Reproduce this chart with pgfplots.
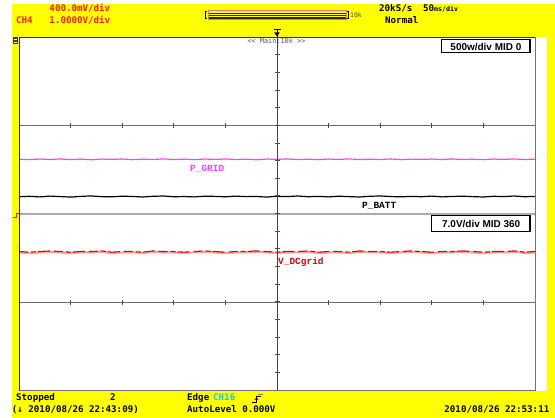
\documentclass[border=0pt]{standalone}
\usepackage{pgfplots}
\pgfplotsset{compat=1.18}
\usepackage{pgfplotstable}
\usepackage{fontspec}
\newfontfamily\scopefont{DejaVu Sans Mono}
\newfontfamily\labfont{Liberation Mono}
\newfontfamily\boxfont{Liberation Sans}
\definecolor{scy}{HTML}{FFFF00}
\definecolor{scred}{HTML}{FF1A1A}
\definecolor{pgrid}{HTML}{FF40FF}
\definecolor{vred}{HTML}{E00000}
\definecolor{vpink}{HTML}{FF9E9E}
\definecolor{cyan16}{HTML}{00D4F0}
\definecolor{barpink}{HTML}{E87878}
\newcommand{\hdr}{\scopefont\bfseries\fontsize{9.2}{11}\selectfont}
\newcommand{\lab}{\labfont\bfseries\fontsize{9.5}{11}\selectfont}
\newcommand{\bx}{\boxfont\bfseries\fontsize{10}{12}\selectfont}

% t [ms], P_GRID [W], P_BATT [W], V_DCgrid [V]
\pgfplotstableread{
t pgrid pbatt vdc
-250 615 190 353.9
-240 610 195 353.8
-230 617 188 353.9
-220 612 197 354.0
-210 618 192 353.9
-200 611 186 353.8
-190 616 194 353.9
-180 609 199 353.9
-170 617 191 354.0
-160 613 189 353.8
-150 618 196 353.9
-140 610 193 353.9
-130 615 187 353.8
-120 612 195 354.0
-110 619 198 353.9
-100 611 190 353.9
-90 616 192 353.8
-80 610 188 353.9
-70 617 196 354.0
-60 613 194 353.9
-50 618 189 353.8
-40 612 197 353.9
-30 615 191 353.9
-20 609 193 354.0
-10 617 186 353.9
0 614 195 353.8
10 618 192 353.9
20 611 198 353.9
30 616 190 354.0
40 610 194 353.8
50 617 188 353.9
60 613 196 353.9
70 619 191 353.8
80 611 187 354.0
90 615 195 353.9
100 612 199 353.9
110 618 192 353.8
120 610 189 353.9
130 616 194 354.0
140 613 190 353.9
150 617 197 353.8
160 611 188 353.9
170 618 193 353.9
180 612 196 354.0
190 615 191 353.9
200 610 187 353.8
210 617 195 353.9
220 613 192 353.9
230 618 198 354.0
240 611 190 353.8
250 616 194 353.9
}\scopedata

\begin{document}
\begin{tikzpicture}
\useasboundingbox (0,0) rectangle (555bp,418bp);
% backgrounds (pixel coordinates, y downward)
\begin{scope}[x=1bp,y=-1bp,yshift=418bp]
  \fill[white] (0,0) rectangle (555,418);
  \fill[scy] (11.7,4) rectangle (555,418);
  \fill[white] (19,37) rectangle (547,391);
\end{scope}

\begin{axis}[at={(19bp,28bp)}, anchor=south west, scale only axis,
  width=516bp, height=353bp, xmin=-250, xmax=250, ymin=-4, ymax=4,
  hide axis, clip=true]
  % P_GRID: 500 W/div, MID 0
  \addplot[pgrid, line width=1.2bp, no marks] table[x=t, y expr=\thisrow{pgrid}/500] {\scopedata};
  % P_BATT: 500 W/div, MID 0
  \addplot[black, line width=1.2bp, no marks] table[x=t, y expr=\thisrow{pbatt}/500] {\scopedata};
  % V_DCgrid: 7 V/div, MID 360
  \addplot[vpink, line width=2bp, no marks, yshift=-0.5bp] table[x=t, y expr=(\thisrow{vdc}-360)/7] {\scopedata};
  \addplot[vred, line width=1.1bp, no marks, yshift=0.4bp, dash pattern=on 9bp off 3bp on 5bp off 2bp on 12bp off 4bp] table[x=t, y expr=(\thisrow{vdc}-360)/7] {\scopedata};
\end{axis}

\begin{scope}[x=1bp,y=-1bp,yshift=418bp]
  % grid lines
  \draw[black!58, line width=0.8bp] (19,125.7) -- (535,125.7);
  \draw[black!58, line width=0.8bp] (19,302.3) -- (535,302.3);
  \draw[black!33, line width=1.5bp] (19,213.8) -- (535,213.8);
  \draw[black!75, line width=0.9bp] (277,37) -- (277,390.5);
  \foreach \k in {1,...,9} {
    \draw[black!70, line width=0.7bp] ({19+51.6*\k},123.2) -- ++(0,5);
    \draw[black!70, line width=0.7bp] ({19+51.6*\k},299.8) -- ++(0,5);
  }
  \foreach \k in {1,...,19} {
    \draw[black!70, line width=0.7bp] (274.5,{37+17.65*\k}) -- ++(5,0);
  }
  % frame
  \draw[black!55, line width=0.8bp] (535,37) -- (535,391);
  \draw[black!55, line width=0.8bp] (19,390.6) -- (535,390.6);
  \draw[black!80!scy, line width=1bp] (19,37.2) -- (535,37.2);
  \draw[black!80!scy, line width=1bp] (19,37) -- (19,391);

  % top-left icon
  \fill[black!75] (13,37.5) rectangle (18.3,44.5);
  \draw[white, line width=0.5bp] (14,39.5) -- (17.3,39.5) (14,42) -- (17.3,42);
  % ground marker
  \draw[scred, line width=0.8bp] (12.5,217.3) -- (16,217.3) -- (16,213.5) -- (19,213.5);
  % trigger marker
  \draw[black, line width=0.8bp] (273.5,29.5) -- (280.5,29.5) (277,29.5) -- (277,37);
  \fill[black] (274.3,32.5) -- (279.7,32.5) -- (277,36.5) -- cycle;
  % bottom marker
  \draw[black!50, line width=0.8bp] (258,394.3) -- (263,394.3);

  % memory bar
  \draw[black, line width=0.7bp] (207.3,11.2) -- (205.5,11.2) -- (205.5,18.8) -- (207.3,18.8);
  \fill[scy] (208,10.8) rectangle (346,19.2);
  \draw[black!85, line width=1.3bp] (208,13.2) -- (346,13.2) (208,15.8) -- (346,15.8) (208,18) -- (346,18);
  \draw[barpink, line width=0.9bp] (208,10.8) rectangle (346,19.2);
  \draw[black, line width=0.7bp] (346.7,11.2) -- (348.5,11.2) -- (348.5,18.8) -- (346.7,18.8);
  \node[anchor=base west, inner sep=0, text=black!70, font=\scopefont\fontsize{6.5}{8}\selectfont] at (350,18) {10k};

  % header text
  \node[anchor=base west, inner sep=0, text=scred, font=\hdr] at (49.3,11.7) {400.0mV/div};
  \node[anchor=base west, inner sep=0, text=scred, font=\hdr] at (16,23.3) {CH4};
  \node[anchor=base west, inner sep=0, text=scred, font=\hdr] at (49.3,23.3) {1.0000V/div};
  \node[anchor=base west, inner sep=0, text=black, font=\hdr] at (379,12) {20kS/s};
  \node[anchor=base west, inner sep=0, text=black, font=\hdr] at (423,12) {50\fontsize{6.6}{8}\selectfont ms/div};
  \node[anchor=base west, inner sep=0, text=black, font=\hdr] at (385,23.3) {Normal};
  \node[anchor=base west, inner sep=0, text=black!65, font=\scopefont\fontsize{6.9}{8}\selectfont] at (247.3,44) {<< Main:10k >>};

  % footer text
  \node[anchor=base west, inner sep=0, text=black, font=\hdr] at (16,400.5) {Stopped};
  \node[anchor=base west, inner sep=0, text=black, font=\hdr] at (110,400.5) {2};
  \node[anchor=base west, inner sep=0, text=black, font=\hdr] at (187,400.5) {Edge};
  \node[anchor=base west, inner sep=0, text=cyan16, font=\hdr] at (213,400.5) {CH16};
  \draw[black, line width=0.8bp] (252,402) -- (256.5,402) -- (256.5,396.5) -- (261,396.5);
  \draw[black, line width=0.7bp] (254.8,399.8) -- (256.5,398) -- (258.2,399.8);
  \node[anchor=base west, inner sep=0, text=black, font=\hdr] at (11.7,412.5) {(↓ 2010/08/26 22:43:09)};
  \node[anchor=base west, inner sep=0, text=black, font=\hdr] at (187,412.5) {AutoLevel 0.000V};
  \node[anchor=base east, inner sep=0, text=black, font=\hdr] at (549.5,412.5) {2010/08/26 22:53:11};

  % trace labels
  \node[anchor=base west, inner sep=0, text=pgrid, font=\lab] at (190,171.7) {P\_GRID};
  \node[anchor=base west, inner sep=0, text=black, font=\lab] at (362,209) {P\_BATT};
  \node[anchor=base west, inner sep=0, text=vred, font=\lab] at (278,265) {V\_DCgrid};

  % scale boxes
  \draw[black, line width=1.4bp, fill=white] (441.7,39.5) rectangle (530,52.7);
  \node[anchor=base, inner sep=0, font=\bx] at (485.9,50.6) {500w/div MID 0};
  \draw[black, line width=1.4bp, fill=white] (431.7,215.7) rectangle (530,231.7);
  \node[anchor=base, inner sep=0, font=\bx] at (481.2,227.7) {7.0V/div MID 360};
\end{scope}
\end{tikzpicture}
\end{document}
